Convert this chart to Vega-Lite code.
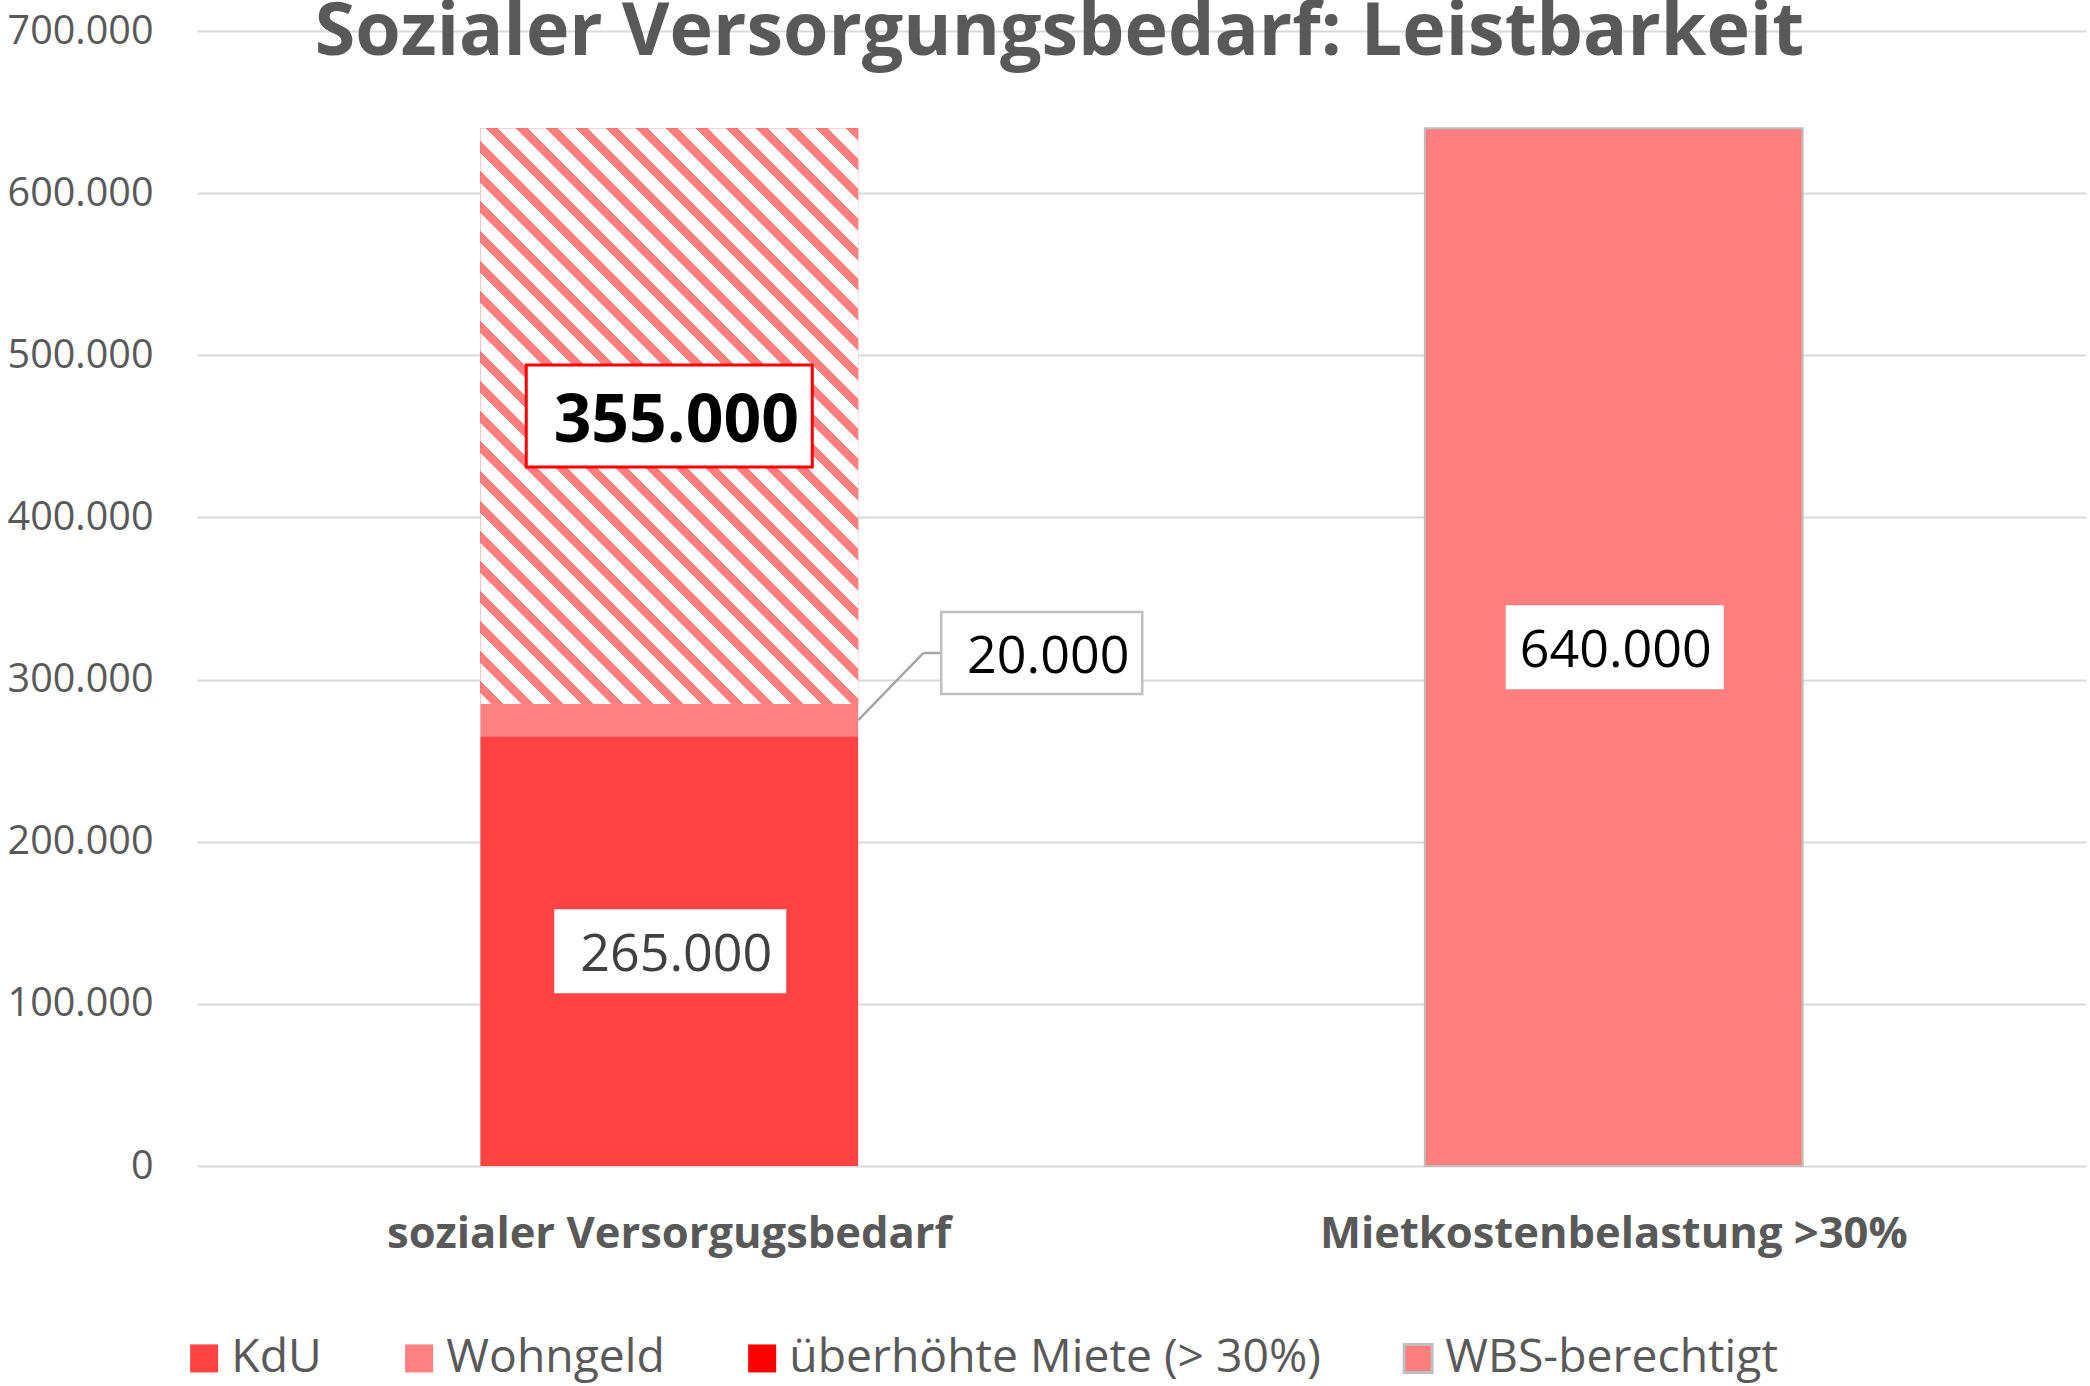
{
  "$schema": "https://vega.github.io/schema/vega-lite/v6.json",
  "width": 1889,
  "height": 1135,
  "autosize": {"type": "none"},
  "padding": {"left": 197, "top": 31, "right": 4, "bottom": 220},
  "background": "#FFFFFF",
  "config": {
    "locale": {"number": {"decimal": ",", "thousands": ".", "grouping": [3], "currency": ["", " €"]}},
    "font": "Open Sans",
    "view": {"stroke": null}
  },
  "title": {
    "text": "Sozialer Versorgungsbedarf: Leistbarkeit",
    "font": "Open Sans",
    "fontSize": 73.5,
    "fontWeight": "bold",
    "color": "#595959",
    "anchor": "middle",
    "frame": "group",
    "dx": -82,
    "dy": 59,
    "offset": 0
  },
  "data": {
    "values": [
      {"cat": "sozialer Versorgugsbedarf", "series": "KdU", "value": 265000, "order": 1},
      {"cat": "sozialer Versorgugsbedarf", "series": "Wohngeld", "value": 20000, "order": 2},
      {"cat": "sozialer Versorgugsbedarf", "series": "überhöhte Miete (> 30%)", "value": 355000, "order": 3},
      {"cat": "Mietkostenbelastung >30%", "series": "WBS-berechtigt", "value": 640000, "order": 4}
    ]
  },
  "transform": [
    {"stack": "value", "groupby": ["cat"], "sort": [{"field": "order", "order": "ascending"}], "as": ["v0", "v1"]}
  ],
  "layer": [
    {
      "mark": {"type": "bar", "strokeWidth": 2},
      "encoding": {
        "x": {
          "field": "cat", "type": "nominal",
          "scale": {"domain": ["sozialer Versorgugsbedarf", "Mietkostenbelastung >30%"], "paddingInner": 0.6, "paddingOuter": 0.3},
          "axis": {"title": null, "domain": false, "ticks": false, "tickSize": 0, "labelFont": "Open Sans", "labelFontSize": 43.5, "labelFontWeight": "bold", "labelColor": "#595959", "labelPadding": 68, "labelBaseline": "middle", "labelAngle": 0, "labelLimit": 0}
        },
        "y": {
          "field": "v1", "type": "quantitative",
          "scale": {"domain": [0, 700000], "nice": false},
          "axis": {"title": null, "values": [0, 100000, 200000, 300000, 400000, 500000, 600000, 700000], "format": ",.0f", "domain": false, "ticks": false, "tickSize": 0, "grid": true, "gridColor": "#D9D9D9", "gridWidth": 2, "labelFont": "Open Sans", "labelFontSize": 39.5, "labelColor": "#595959", "labelPadding": 44, "labelOverlap": false, "labelBound": false}
        },
        "y2": {"field": "v0"},
        "fill": {
          "field": "series", "type": "nominal",
          "scale": {"domain": ["KdU", "Wohngeld", "überhöhte Miete (> 30%)", "WBS-berechtigt"], "range": ["#FF4343", "#FF8080", "#FF0000", "#FF7F7F"]},
          "legend": {"orient": "none", "legendX": -16, "legendY": 1304, "direction": "horizontal", "title": null, "symbolType": "square", "symbolSize": 784, "symbolStrokeWidth": 3, "symbolOpacity": 1, "labelFont": "Open Sans", "labelFontSize": 46.3, "labelColor": "#595959", "labelOffset": 4, "columnPadding": 74, "padding": 0, "labelLimit": 0}
        },
        "stroke": {
          "field": "series", "type": "nominal",
          "scale": {"domain": ["KdU", "Wohngeld", "überhöhte Miete (> 30%)", "WBS-berechtigt"], "range": ["rgba(0,0,0,0)", "rgba(0,0,0,0)", "rgba(0,0,0,0)", "#BFBFBF"]},
          "legend": {"orient": "none", "legendX": -16, "legendY": 1304, "direction": "horizontal", "title": null, "symbolType": "square", "symbolSize": 784, "symbolStrokeWidth": 3, "symbolOpacity": 1, "labelFont": "Open Sans", "labelFontSize": 46.3, "labelColor": "#595959", "labelOffset": 4, "columnPadding": 74, "padding": 0, "labelLimit": 0}
        }
      }
    },
    {
      "transform": [{"filter": "datum.series === 'überhöhte Miete (> 30%)'"}],
      "mark": {
        "type": "bar",
        "stroke": null,
        "fill": {
          "gradient": "linear", "x1": 1, "y1": 0, "x2": 0.2349, "y2": 1.1657,
          "stops": [
            {"offset": 0, "color": "#FF7F7F"}, {"offset": 0.013, "color": "#FF7F7F"}, {"offset": 0.013, "color": "#FFFFFF"}, {"offset": 0.03125, "color": "#FFFFFF"},
            {"offset": 0.03125, "color": "#FF7F7F"}, {"offset": 0.04425, "color": "#FF7F7F"}, {"offset": 0.04425, "color": "#FFFFFF"}, {"offset": 0.0625, "color": "#FFFFFF"},
            {"offset": 0.0625, "color": "#FF7F7F"}, {"offset": 0.0755, "color": "#FF7F7F"}, {"offset": 0.0755, "color": "#FFFFFF"}, {"offset": 0.09375, "color": "#FFFFFF"},
            {"offset": 0.09375, "color": "#FF7F7F"}, {"offset": 0.10675, "color": "#FF7F7F"}, {"offset": 0.10675, "color": "#FFFFFF"}, {"offset": 0.125, "color": "#FFFFFF"},
            {"offset": 0.125, "color": "#FF7F7F"}, {"offset": 0.138, "color": "#FF7F7F"}, {"offset": 0.138, "color": "#FFFFFF"}, {"offset": 0.15625, "color": "#FFFFFF"},
            {"offset": 0.15625, "color": "#FF7F7F"}, {"offset": 0.16925, "color": "#FF7F7F"}, {"offset": 0.16925, "color": "#FFFFFF"}, {"offset": 0.1875, "color": "#FFFFFF"},
            {"offset": 0.1875, "color": "#FF7F7F"}, {"offset": 0.2005, "color": "#FF7F7F"}, {"offset": 0.2005, "color": "#FFFFFF"}, {"offset": 0.21875, "color": "#FFFFFF"},
            {"offset": 0.21875, "color": "#FF7F7F"}, {"offset": 0.23175, "color": "#FF7F7F"}, {"offset": 0.23175, "color": "#FFFFFF"}, {"offset": 0.25, "color": "#FFFFFF"},
            {"offset": 0.25, "color": "#FF7F7F"}, {"offset": 0.263, "color": "#FF7F7F"}, {"offset": 0.263, "color": "#FFFFFF"}, {"offset": 0.28125, "color": "#FFFFFF"},
            {"offset": 0.28125, "color": "#FF7F7F"}, {"offset": 0.29425, "color": "#FF7F7F"}, {"offset": 0.29425, "color": "#FFFFFF"}, {"offset": 0.3125, "color": "#FFFFFF"},
            {"offset": 0.3125, "color": "#FF7F7F"}, {"offset": 0.3255, "color": "#FF7F7F"}, {"offset": 0.3255, "color": "#FFFFFF"}, {"offset": 0.34375, "color": "#FFFFFF"},
            {"offset": 0.34375, "color": "#FF7F7F"}, {"offset": 0.35675, "color": "#FF7F7F"}, {"offset": 0.35675, "color": "#FFFFFF"}, {"offset": 0.375, "color": "#FFFFFF"},
            {"offset": 0.375, "color": "#FF7F7F"}, {"offset": 0.388, "color": "#FF7F7F"}, {"offset": 0.388, "color": "#FFFFFF"}, {"offset": 0.40625, "color": "#FFFFFF"},
            {"offset": 0.40625, "color": "#FF7F7F"}, {"offset": 0.41925, "color": "#FF7F7F"}, {"offset": 0.41925, "color": "#FFFFFF"}, {"offset": 0.4375, "color": "#FFFFFF"},
            {"offset": 0.4375, "color": "#FF7F7F"}, {"offset": 0.4505, "color": "#FF7F7F"}, {"offset": 0.4505, "color": "#FFFFFF"}, {"offset": 0.46875, "color": "#FFFFFF"},
            {"offset": 0.46875, "color": "#FF7F7F"}, {"offset": 0.48175, "color": "#FF7F7F"}, {"offset": 0.48175, "color": "#FFFFFF"}, {"offset": 0.5, "color": "#FFFFFF"},
            {"offset": 0.5, "color": "#FF7F7F"}, {"offset": 0.513, "color": "#FF7F7F"}, {"offset": 0.513, "color": "#FFFFFF"}, {"offset": 0.53125, "color": "#FFFFFF"},
            {"offset": 0.53125, "color": "#FF7F7F"}, {"offset": 0.54425, "color": "#FF7F7F"}, {"offset": 0.54425, "color": "#FFFFFF"}, {"offset": 0.5625, "color": "#FFFFFF"},
            {"offset": 0.5625, "color": "#FF7F7F"}, {"offset": 0.5755, "color": "#FF7F7F"}, {"offset": 0.5755, "color": "#FFFFFF"}, {"offset": 0.59375, "color": "#FFFFFF"},
            {"offset": 0.59375, "color": "#FF7F7F"}, {"offset": 0.60675, "color": "#FF7F7F"}, {"offset": 0.60675, "color": "#FFFFFF"}, {"offset": 0.625, "color": "#FFFFFF"},
            {"offset": 0.625, "color": "#FF7F7F"}, {"offset": 0.638, "color": "#FF7F7F"}, {"offset": 0.638, "color": "#FFFFFF"}, {"offset": 0.65625, "color": "#FFFFFF"},
            {"offset": 0.65625, "color": "#FF7F7F"}, {"offset": 0.66925, "color": "#FF7F7F"}, {"offset": 0.66925, "color": "#FFFFFF"}, {"offset": 0.6875, "color": "#FFFFFF"},
            {"offset": 0.6875, "color": "#FF7F7F"}, {"offset": 0.7005, "color": "#FF7F7F"}, {"offset": 0.7005, "color": "#FFFFFF"}, {"offset": 0.71875, "color": "#FFFFFF"},
            {"offset": 0.71875, "color": "#FF7F7F"}, {"offset": 0.73175, "color": "#FF7F7F"}, {"offset": 0.73175, "color": "#FFFFFF"}, {"offset": 0.75, "color": "#FFFFFF"},
            {"offset": 0.75, "color": "#FF7F7F"}, {"offset": 0.763, "color": "#FF7F7F"}, {"offset": 0.763, "color": "#FFFFFF"}, {"offset": 0.78125, "color": "#FFFFFF"},
            {"offset": 0.78125, "color": "#FF7F7F"}, {"offset": 0.79425, "color": "#FF7F7F"}, {"offset": 0.79425, "color": "#FFFFFF"}, {"offset": 0.8125, "color": "#FFFFFF"},
            {"offset": 0.8125, "color": "#FF7F7F"}, {"offset": 0.8255, "color": "#FF7F7F"}, {"offset": 0.8255, "color": "#FFFFFF"}, {"offset": 0.84375, "color": "#FFFFFF"},
            {"offset": 0.84375, "color": "#FF7F7F"}, {"offset": 0.85675, "color": "#FF7F7F"}, {"offset": 0.85675, "color": "#FFFFFF"}, {"offset": 0.875, "color": "#FFFFFF"},
            {"offset": 0.875, "color": "#FF7F7F"}, {"offset": 0.888, "color": "#FF7F7F"}, {"offset": 0.888, "color": "#FFFFFF"}, {"offset": 0.90625, "color": "#FFFFFF"},
            {"offset": 0.90625, "color": "#FF7F7F"}, {"offset": 0.91925, "color": "#FF7F7F"}, {"offset": 0.91925, "color": "#FFFFFF"}, {"offset": 0.9375, "color": "#FFFFFF"},
            {"offset": 0.9375, "color": "#FF7F7F"}, {"offset": 0.9505, "color": "#FF7F7F"}, {"offset": 0.9505, "color": "#FFFFFF"}, {"offset": 0.96875, "color": "#FFFFFF"},
            {"offset": 0.96875, "color": "#FF7F7F"}, {"offset": 0.98175, "color": "#FF7F7F"}, {"offset": 0.98175, "color": "#FFFFFF"}, {"offset": 1, "color": "#FFFFFF"}
          ]
        }
      },
      "encoding": {
        "x": {"field": "cat", "type": "nominal"},
        "y": {"field": "v1", "type": "quantitative"},
        "y2": {"field": "v0"}
      }
    },
    {
      "transform": [
        {"fold": ["v0", "v1"], "as": ["k", "pos"]},
        {"aggregate": [{"op": "mean", "field": "pos", "as": "mid"}], "groupby": ["cat", "series", "value"]}
      ],
      "encoding": {
        "x": {"field": "cat", "type": "nominal"},
        "y": {"field": "mid", "type": "quantitative"}
      },
      "layer": [
        {
          "transform": [{"filter": "datum.series === 'KdU'"}],
          "mark": {"type": "point", "shape": "M-115,-42H117V42H-115Z", "size": 4, "filled": true, "fill": "#FFFFFF", "stroke": null, "opacity": 1, "fillOpacity": 1}
        },
        {
          "transform": [{"filter": "datum.series === 'überhöhte Miete (> 30%)'"}],
          "mark": {"type": "point", "shape": "M-143,-51H143V51H-143Z", "size": 4, "filled": true, "fill": "#FFFFFF", "stroke": "#FF0000", "strokeWidth": 3, "opacity": 1, "fillOpacity": 1, "strokeOpacity": 1}
        },
        {
          "transform": [{"filter": "datum.series === 'WBS-berechtigt'"}],
          "mark": {"type": "point", "shape": "M-108,-42H110V42H-108Z", "size": 4, "filled": true, "fill": "#FFFFFF", "stroke": null, "opacity": 1, "fillOpacity": 1}
        },
        {
          "transform": [{"filter": "datum.series === 'Wohngeld'"}],
          "mark": {"type": "point", "shape": "M189,0L254,-67M254,-67L272,-67", "size": 4, "filled": false, "stroke": "#A6A6A6", "strokeWidth": 2.5, "opacity": 1, "strokeOpacity": 1}
        },
        {
          "transform": [{"filter": "datum.series === 'Wohngeld'"}],
          "mark": {"type": "point", "shape": "M272,-108H473V-26H272Z", "size": 4, "filled": true, "fill": "#FFFFFF", "stroke": "#BFBFBF", "strokeWidth": 2.5, "opacity": 1, "fillOpacity": 1, "strokeOpacity": 1}
        },
        {
          "transform": [{"filter": "datum.series === 'KdU'"}],
          "mark": {"type": "text", "font": "Open Sans", "fontSize": 52, "color": "#404040", "align": "center", "baseline": "middle", "dx": 7, "dy": 4},
          "encoding": {"text": {"field": "value", "type": "quantitative", "format": ",.0f"}}
        },
        {
          "transform": [{"filter": "datum.series === 'Wohngeld'"}],
          "mark": {"type": "text", "font": "Open Sans", "fontSize": 52, "color": "#000000", "align": "center", "baseline": "middle", "dx": 379, "dy": -63},
          "encoding": {"text": {"field": "value", "type": "quantitative", "format": ",.0f"}}
        },
        {
          "transform": [{"filter": "datum.series === 'überhöhte Miete (> 30%)'"}],
          "mark": {"type": "text", "font": "Open Sans", "fontSize": 66, "fontWeight": "bold", "color": "#000000", "align": "center", "baseline": "middle", "dx": 7, "dy": 6},
          "encoding": {"text": {"field": "value", "type": "quantitative", "format": ",.0f"}}
        },
        {
          "transform": [{"filter": "datum.series === 'WBS-berechtigt'"}],
          "mark": {"type": "text", "font": "Open Sans", "fontSize": 52, "color": "#000000", "align": "center", "baseline": "middle", "dx": 2, "dy": 4},
          "encoding": {"text": {"field": "value", "type": "quantitative", "format": ",.0f"}}
        }
      ]
    }
  ]
}
